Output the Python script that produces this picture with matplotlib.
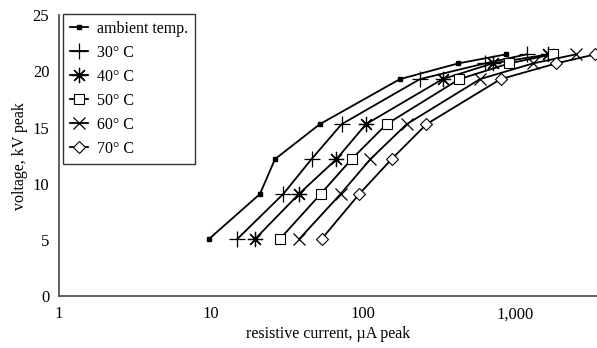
import matplotlib
matplotlib.use("Agg")
import matplotlib.pyplot as plt
from matplotlib.ticker import FixedLocator, FixedFormatter, NullLocator

plt.rcParams['font.family'] = ['Liberation Serif', 'DejaVu Serif']

# voltage levels (kV peak)
voltage = [5.1, 9.1, 12.2, 15.3, 19.3, 20.7, 21.5]

# resistive current (uA peak) per temperature
ambient = [9.7, 21, 26.4, 52, 175, 424, 873]
t30 = [14.9, 29.9, 45.9, 72.4, 237, 634, 1193]
t40 = [19.5, 37.9, 67, 104.7, 334, 715, 1656]
t50 = [28.4, 52.7, 84.3, 143, 431, 918, 1770]
t60 = [38.1, 71.3, 112, 194, 589, 1318, 2520]
t70 = [53.5, 94.6, 154.5, 262, 805, 1872, 3370]

labels = ["ambient temp.", "30° C", "40° C", "50° C", "60° C", "70° C"]
xticks = [1, 10, 100, 1000]
xticklabels = ["1", "10", "100", "1,000"]
yticks = [0, 5, 10, 15, 20, 25]

fig = plt.figure(figsize=(5.97, 3.48), dpi=100)
ax = fig.add_axes([0.0988, 0.148, 0.9012, 0.809])

styles = [
    dict(marker="s", ms=3.5, mfc="black"),
    dict(marker="+", ms=11, mew=0.9),
    dict(marker=(8, 2, 0), ms=11, mew=0.9),
    dict(marker="s", ms=6.5, mfc="white", mew=0.8),
    dict(marker="x", ms=8.5, mew=0.9),
    dict(marker="D", ms=6, mfc="white", mew=0.8),
]
series = [ambient, t30, t40, t50, t60, t70]
for xs, lab, st in zip(series, labels, styles):
    ax.plot(xs, voltage, color="black", lw=1.3, mec="black", label=lab, **st)

ax.set_xscale("log")
ax.set_xlim(1, 3470)
ax.set_ylim(0, 25)
ax.xaxis.set_major_locator(FixedLocator(xticks))
ax.xaxis.set_major_formatter(FixedFormatter(xticklabels))
ax.xaxis.set_minor_locator(NullLocator())
ax.set_yticks(yticks)
ax.tick_params(length=0, labelsize=12, pad=7)

for s in ["top", "right"]:
    ax.spines[s].set_visible(False)
for s in ["left", "bottom"]:
    ax.spines[s].set_color("#555555")
    ax.spines[s].set_linewidth(1.3)

ax.set_xlabel("resistive current, µA peak", fontsize=11.5, labelpad=3)
ax.set_ylabel("voltage, kV peak", fontsize=11.5, labelpad=3)

leg = ax.legend(loc="upper left", bbox_to_anchor=(0.0074, 1.004), fontsize=11.5,
                numpoints=1, handlelength=1.1, handletextpad=0.6,
                labelspacing=0.5, borderpad=0.45, borderaxespad=0,
                fancybox=False, framealpha=1, edgecolor="#333333")
leg.get_frame().set_linewidth(1.0)

fig.savefig("out.png", dpi=100)
